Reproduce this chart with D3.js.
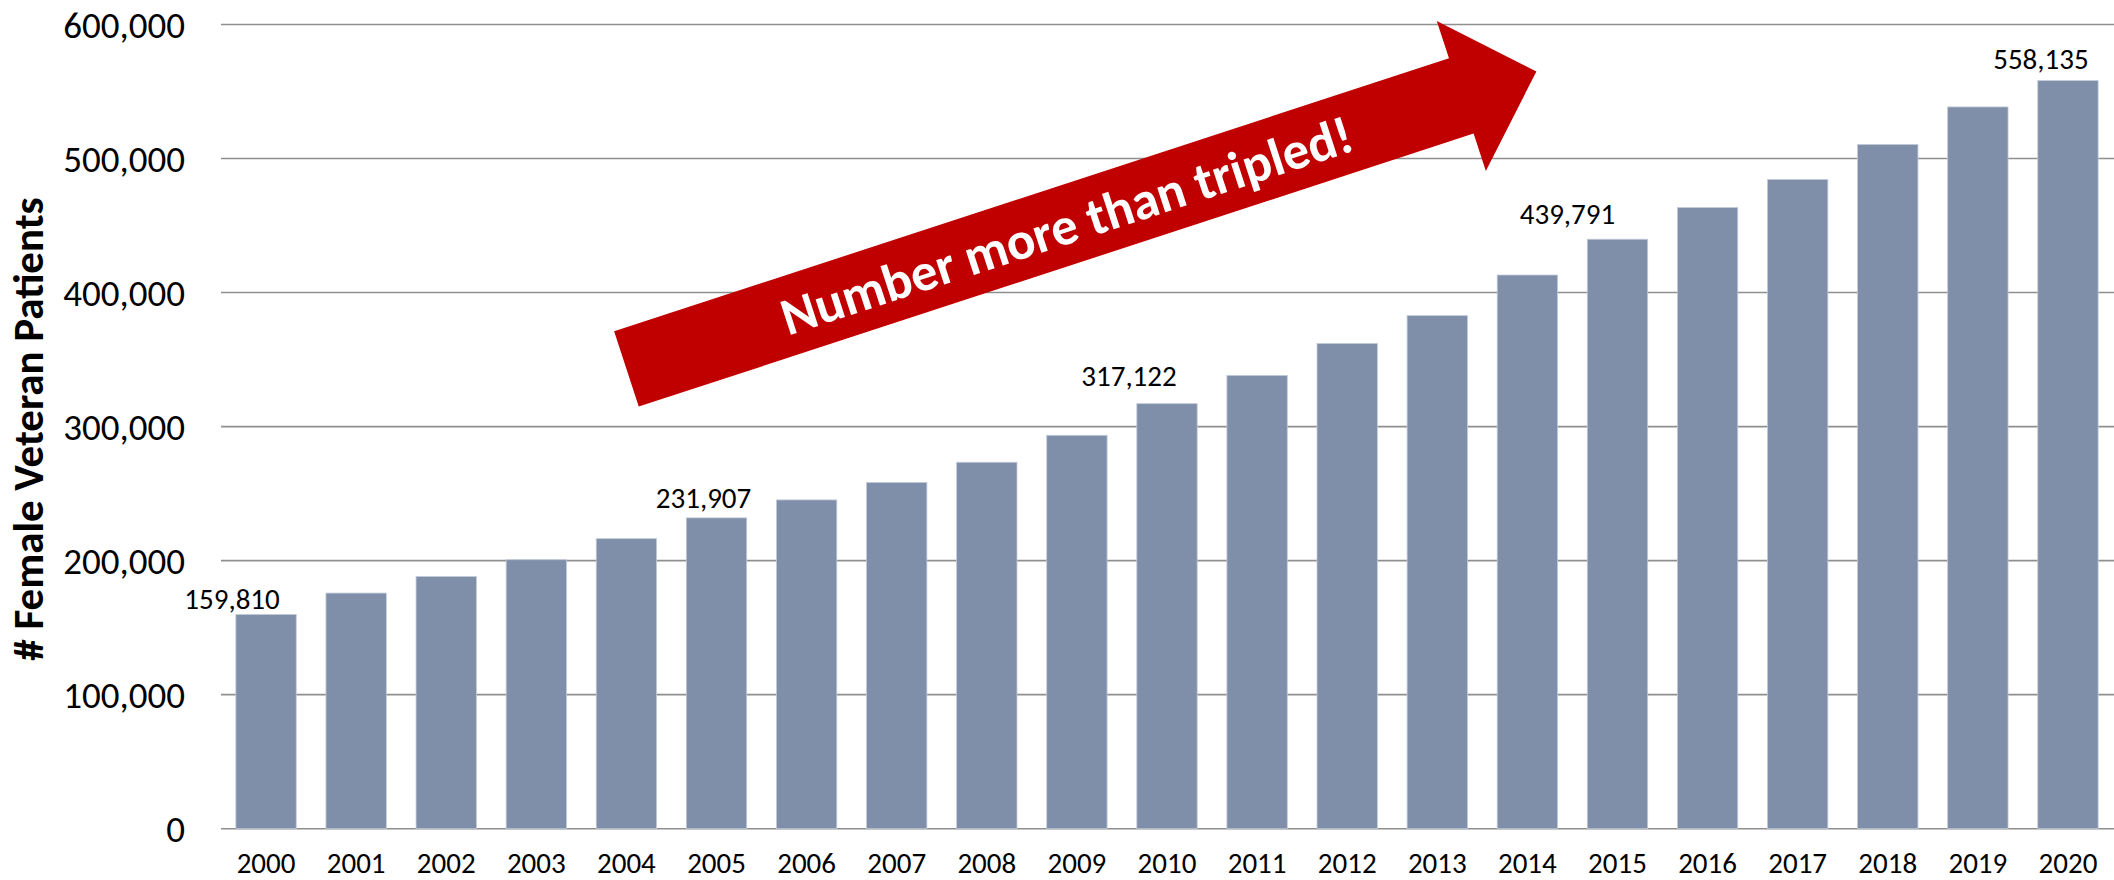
<!DOCTYPE html>
<html>
<head>
<meta charset="utf-8">
<script src="https://cdn.jsdelivr.net/npm/d3@7"></script>
<style>
  body { margin: 0; background: #fff; }
  text { font-family: Calibri, Carlito, Lato, sans-serif; }
</style>
</head>
<body>
<div id="chart"></div>
<script>
var years = ["2000", "2001", "2002", "2003", "2004", "2005", "2006", "2007", "2008", "2009", "2010",
             "2011", "2012", "2013", "2014", "2015", "2016", "2017", "2018", "2019", "2020"];
var patients = [159810, 175800, 188100, 200700, 216400, 231907, 245300, 258300, 273400, 293500, 317122,
                338200, 362000, 382800, 413100, 439791, 463400, 484300, 510500, 538500, 558135];
var yTicks = [0, 100000, 200000, 300000, 400000, 500000, 600000];
var labelYears = ["2000", "2005", "2010", "2015", "2020"];
var yTitle = "# Female Veteran Patients";
var arrowText = "Number more than tripled!";
// arrow runs from tail (year, value) to tip (year, value)
var arrowFrom = ["2004", 343000];
var arrowTo = ["2014", 565000];

var W = 2114, H = 880;
var m = {t: 24.5, r: 1, b: 51.3, l: 221};

var svg = d3.select("#chart").append("svg")
    .attr("width", W)
    .attr("height", H);

// x band scale for the years
var x = d3.scaleBand().domain(years)
    .range([m.l, W - m.r])
    .paddingInner(0.33)
    .paddingOuter(0.165);

// y scale for counts
var y = d3.scaleLinear().domain([0, 600000])
    .range([H - m.b, m.t]);

// gridlines
svg.append("g").selectAll("line").data(yTicks).enter()
    .append("line")
    .attr("x1", m.l).attr("x2", W)
    .attr("y1", function(d) { return y(d); })
    .attr("y2", function(d) { return y(d); })
    .attr("stroke", "#8f8f8f")
    .attr("stroke-width", 1.6);

// y tick labels
svg.append("g").selectAll("text").data(yTicks).enter()
    .append("text")
    .attr("x", 185)
    .attr("y", function(d) { return y(d); })
    .attr("dy", "0.36em")
    .attr("text-anchor", "end")
    .attr("font-size", 37)
    .attr("fill", "#000")
    .text(function(d) { return d3.format(",")(d); });

// bars
var data = years.map(function(d, i) { return [d, patients[i]]; });
svg.append("g").selectAll("rect").data(data).enter()
    .append("rect")
    .attr("x", function(d) { return x(d[0]); })
    .attr("y", function(d) { return y(d[1]); })
    .attr("width", x.bandwidth())
    .attr("height", function(d) { return y(0) - y(d[1]); })
    .attr("fill", "#7f8fa9")
    .attr("stroke", "#c3cad8")
    .attr("stroke-width", 0.8);

// year labels
svg.append("g").selectAll("text").data(years).enter()
    .append("text")
    .attr("x", function(d) { return x(d) + x.bandwidth() / 2; })
    .attr("y", 873)
    .attr("text-anchor", "middle")
    .attr("font-size", 29)
    .attr("fill", "#000")
    .text(function(d) { return d; });

// value labels, nudged like the original
var labelShift = [[-34, 6], [-13, 10], [-38, 18], [-50, 15], [-27, 12]];
svg.append("g").selectAll("text").data(labelYears).enter()
    .append("text")
    .attr("x", function(d, i) { return x(d) + x.bandwidth() / 2 + labelShift[i][0]; })
    .attr("y", function(d, i) { return y(patients[years.indexOf(d)]) - labelShift[i][1]; })
    .attr("text-anchor", "middle")
    .attr("font-size", 29)
    .attr("fill", "#000")
    .text(function(d) { return d3.format(",")(patients[years.indexOf(d)]); });

// y axis title
svg.append("text")
    .attr("transform", "translate(28,429) rotate(-90)")
    .attr("text-anchor", "middle")
    .attr("dy", "0.35em")
    .attr("font-size", 43)
    .attr("font-weight", "bold")
    .attr("fill", "#000")
    .text(yTitle);

// big red arrow
var x0 = x(arrowFrom[0]) + x.bandwidth() / 2, y0 = y(arrowFrom[1]);
var x1 = x(arrowTo[0]) + x.bandwidth() / 2 + 9, y1 = y(arrowTo[1]);
var len = Math.sqrt((x1 - x0) * (x1 - x0) + (y1 - y0) * (y1 - y0));
var ang = Math.atan2(y1 - y0, x1 - x0) * 180 / Math.PI;
var sw = 39.6, hl = 79, hw = 79;
var pts = [[0, -sw], [len - hl, -sw], [len - hl, -hw], [len, 0], [len - hl, hw], [len - hl, sw], [0, sw]];

var arrow = svg.append("g")
    .attr("transform", "translate(" + x0 + "," + y0 + ") rotate(" + ang + ")");
arrow.append("path")
    .attr("d", "M" + pts.join("L") + "Z")
    .attr("fill", "#c00000");
arrow.append("text")
    .attr("x", 463)
    .attr("y", 0)
    .attr("dy", "0.35em")
    .attr("text-anchor", "middle")
    .attr("font-size", 53)
    .attr("font-weight", "bold")
    .attr("fill", "#fff")
    .text(arrowText);
</script>
</body>
</html>
